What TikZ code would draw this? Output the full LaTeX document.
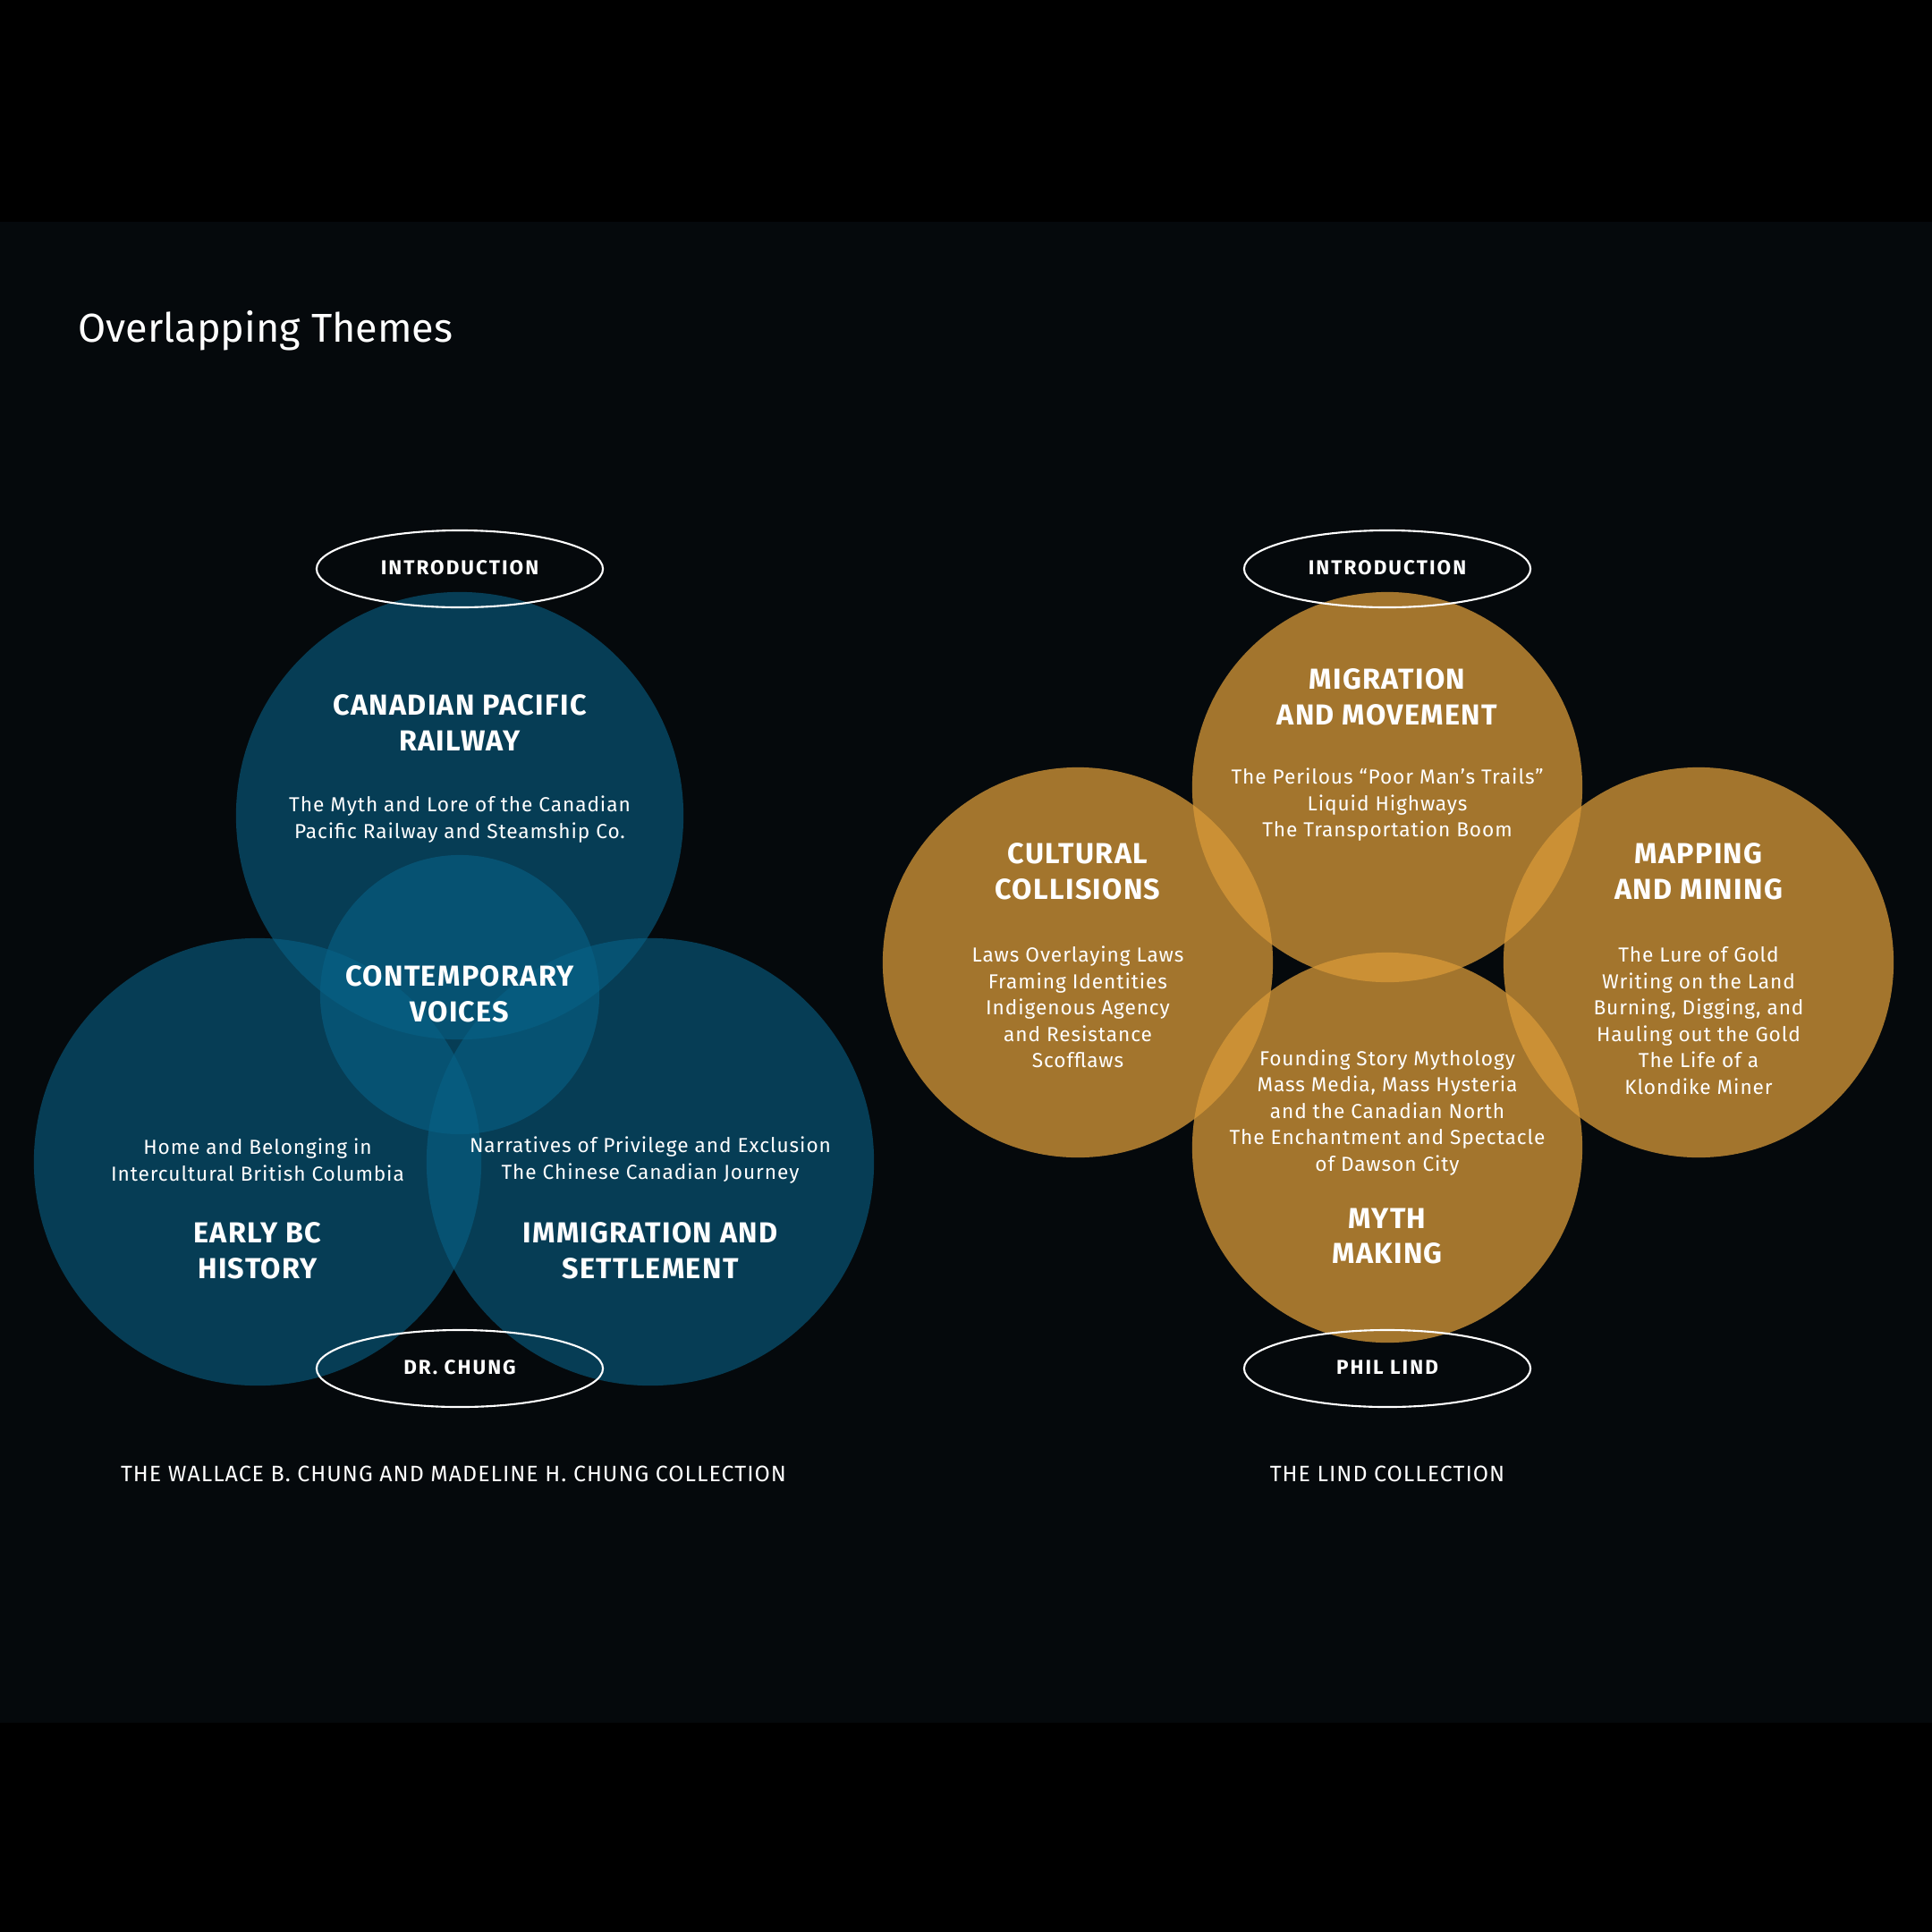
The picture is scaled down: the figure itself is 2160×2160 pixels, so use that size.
\documentclass[tikz,border=0pt]{standalone}
\usepackage{fontspec}
\setmainfont{Fira Sans}
\newfontfamily\spacedfont[LetterSpace=4]{Fira Sans}
\newfontfamily\widefont[LetterSpace=9]{Fira Sans}
\usetikzlibrary{shapes.geometric, positioning}
\definecolor{pagebg}{HTML}{05090C}
\definecolor{chungblue}{HTML}{076186}
\definecolor{lindgold}{HTML}{D99A39}

\begin{document}
\begin{tikzpicture}[x=0.01cm, y=-0.01cm,
    bluecirc/.style={circle, fill=chungblue, fill opacity=0.6, inner sep=0pt, minimum size=5cm},
    goldcirc/.style={circle, fill=lindgold, fill opacity=0.75, inner sep=0pt, minimum size=4.36cm},
    tag/.style={ellipse, draw=white, line width=0.6pt, minimum width=3.2cm, minimum height=0.86cm,
      text=white, text depth=1pt, font={\widefont\bfseries\fontsize{6.4}{8}\selectfont}},
    head/.style={text=white, align=center, font={\spacedfont\bfseries\fontsize{9.2}{11.3}\selectfont}},
    blurb/.style={text=white, align=center, font={\spacedfont\fontsize{6.45}{8.4}\selectfont}},
    coll/.style={text=white, font={\spacedfont\fontsize{7.1}{8}\selectfont}}]

    % page
    \fill[black] (0,0) rectangle (2160,2160);
    \fill[pagebg] (0,248) rectangle (2160,1926);
    \node (title) [anchor=base west, text=white, inner sep=0pt, font={\fontsize{12.8}{15}\selectfont}]
      at (87,382) {Overlapping Themes};

    % Chung collection
    \node (cpr) [bluecirc] at (514,912) {};
    \node (ebc) [bluecirc] at (288,1299) {};
    \node (imm) [bluecirc] at (727,1299) {};
    \node (cv) [bluecirc, minimum size=3.12cm] at (514,1112) {};

    \node (cprH) [head] at (514,808) {CANADIAN PACIFIC\\RAILWAY};
    \node (cprB) [blurb] at (514,916) {The Myth and Lore of the Canadian\\Pacific Railway and Steamship Co.};
    \node (cvH) [head] at (514,1111) {CONTEMPORARY\\VOICES};
    \node (ebcB) [blurb] at (288,1297) {Home and Belonging in\\Intercultural British Columbia};
    \node (ebcH) [head] at (288,1398) {EARLY BC\\HISTORY};
    \node (immB) [blurb] at (727,1297) {Narratives of Privilege and Exclusion\\The Chinese Canadian Journey};
    \node (immH) [head] at (727,1398) {IMMIGRATION AND\\SETTLEMENT};

    \node (introA) [tag] at (514,636) {INTRODUCTION};
    \node (chung) [tag] at (514,1530) {DR. CHUNG};
    \node (chungC) [coll] at (507,1648) {THE WALLACE B. CHUNG AND MADELINE H. CHUNG COLLECTION};

    % Lind collection
    \node (mig) [goldcirc] at (1551,880) {};
    \node (cul) [goldcirc] at (1205,1076) {};
    \node (map) [goldcirc] at (1899,1076) {};
    \node (myth) [goldcirc] at (1551,1283) {};

    \node (migH) [head] at (1551,779) {MIGRATION\\AND MOVEMENT};
    \node (migB) [blurb] at (1551,900) {The Perilous “Poor Man’s Trails”\\Liquid Highways\\The Transportation Boom};
    \node (culH) [head] at (1205,974) {CULTURAL\\COLLISIONS};
    \node (culB) [blurb] at (1205,1126) {Laws Overlaying Laws\\Framing Identities\\Indigenous Agency\\and Resistance\\Scofflaws};
    \node (mapH) [head] at (1899,974) {MAPPING\\AND MINING};
    \node (mapB) [blurb] at (1899,1141) {The Lure of Gold\\Writing on the Land\\Burning, Digging, and\\Hauling out the Gold\\The Life of a\\Klondike Miner};
    \node (mythB) [blurb] at (1551,1244) {Founding Story Mythology\\Mass Media, Mass Hysteria\\and the Canadian North\\The Enchantment and Spectacle\\of Dawson City};
    \node (mythH) [head] at (1551,1382) {MYTH\\MAKING};

    \node (introB) [tag] at (1551,636) {INTRODUCTION};
    \node (lind) [tag] at (1551,1530) {PHIL LIND};
    \node (lindC) [coll] at (1551,1648) {THE LIND COLLECTION};
\end{tikzpicture}
\end{document}
